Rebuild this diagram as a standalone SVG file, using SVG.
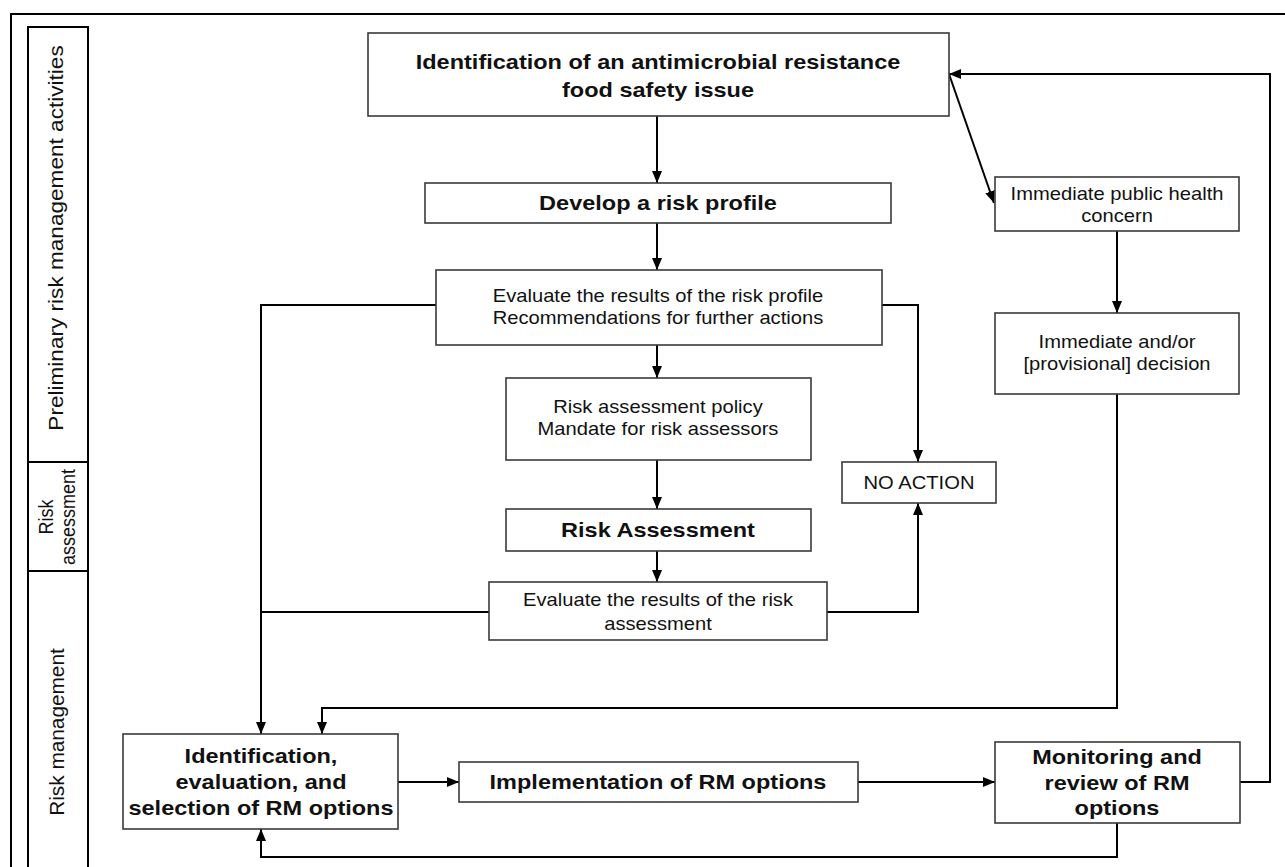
<svg xmlns="http://www.w3.org/2000/svg" width="1285" height="867" viewBox="0 0 1285 867">
<style>
  .frame { fill: none; stroke: #000; stroke-width: 2; }
  .box { fill: #fff; stroke: #3a3a3a; stroke-width: 1.6; }
  .conn { fill: none; stroke: #000; stroke-width: 2; }
  .b { font-family: "Liberation Sans", Arial, sans-serif; font-weight: bold; font-size: 21px; fill: #111; }
  .r { font-family: "Liberation Sans", Arial, sans-serif; font-size: 18px; fill: #111; }
  .side { font-family: "Liberation Sans", Arial, sans-serif; font-size: 20px; fill: #111; }
</style>
<defs>
  <marker id="ah" markerUnits="userSpaceOnUse" markerWidth="12" markerHeight="12" viewBox="0 0 12 12" refX="12" refY="6" orient="auto">
    <path d="M0,1 L12,6 L0,11 Z" fill="#000"/>
  </marker>
</defs>
<rect x="0" y="0" width="1285" height="867" fill="#fff"/>

<g id="frame">
  <path class="frame" d="M11,867 V14 H1285"/>
  <path class="frame" d="M28,867 V27 H88 V867 M28,462 H88 M28,571 H88"/>
  <text class="side" text-anchor="middle" transform="translate(56 238) rotate(-90) scale(1.13 1)" y="7">Preliminary risk management activities</text>
  <text class="side" text-anchor="middle" transform="translate(57 517) rotate(-90) scale(0.9 1)"><tspan x="0" y="-4">Risk</tspan><tspan x="0" y="18">assessment</tspan></text>
  <text class="side" text-anchor="middle" transform="translate(57 732) rotate(-90) scale(1.04 1)" y="7">Risk management</text>
</g>

<g id="connectors">
  <path class="conn" d="M657,116 V183" marker-end="url(#ah)"/>
  <path class="conn" d="M657,223 V270" marker-end="url(#ah)"/>
  <path class="conn" d="M657,345 V378" marker-end="url(#ah)"/>
  <path class="conn" d="M657,460 V509" marker-end="url(#ah)"/>
  <path class="conn" d="M657,551 V582" marker-end="url(#ah)"/>
  <path class="conn" d="M436,305 H261 V734" marker-end="url(#ah)"/>
  <path class="conn" d="M882,305 H918 V462" marker-end="url(#ah)"/>
  <path class="conn" d="M489,612 H261"/>
  <path class="conn" d="M827,612 H918 V503" marker-end="url(#ah)"/>
  <path class="conn" d="M1240,782 H1270 V74 H949" marker-end="url(#ah)"/>
  <path class="conn" d="M949,74 L994,203" marker-end="url(#ah)"/>
  <path class="conn" d="M1117,231 V313" marker-end="url(#ah)"/>
  <path class="conn" d="M1117,394 V708 H322 V734" marker-end="url(#ah)"/>
  <path class="conn" d="M398,782 H459" marker-end="url(#ah)"/>
  <path class="conn" d="M858,782 H995" marker-end="url(#ah)"/>
  <path class="conn" d="M1117,823 V857 H261 V829" marker-end="url(#ah)"/>
</g>

<g id="n-identify">
  <rect class="box" x="368" y="33" width="581" height="83"/>
  <text class="b" text-anchor="middle" transform="translate(658 0) scale(1.12 1)"><tspan x="0" y="69">Identification of an antimicrobial resistance</tspan><tspan x="0" y="97">food safety issue</tspan></text>
</g>

<g id="n-profile">
  <rect class="box" x="425" y="183" width="466" height="40"/>
  <text class="b" text-anchor="middle" transform="translate(658 210) scale(1.12 1)">Develop a risk profile</text>
</g>

<g id="n-eval-profile">
  <rect class="box" x="436" y="270" width="446" height="75"/>
  <text class="r" text-anchor="middle" transform="translate(658 0) scale(1.12 1)"><tspan x="0" y="302">Evaluate the results of the risk profile</tspan><tspan x="0" y="324">Recommendations for further actions</tspan></text>
</g>

<g id="n-policy">
  <rect class="box" x="506" y="378" width="305" height="82"/>
  <text class="r" text-anchor="middle" transform="translate(658 0) scale(1.12 1)"><tspan x="0" y="413">Risk assessment policy</tspan><tspan x="0" y="435">Mandate for risk assessors</tspan></text>
</g>

<g id="n-assessment">
  <rect class="box" x="506" y="509" width="305" height="42"/>
  <text class="b" text-anchor="middle" transform="translate(658 537) scale(1.12 1)">Risk Assessment</text>
</g>

<g id="n-eval-assessment">
  <rect class="box" x="489" y="582" width="338" height="58"/>
  <text class="r" text-anchor="middle" transform="translate(658 0) scale(1.12 1)"><tspan x="0" y="606">Evaluate the results of the risk</tspan><tspan x="0" y="630">assessment</tspan></text>
</g>

<g id="n-noaction">
  <rect class="box" x="842" y="462" width="154" height="41"/>
  <text class="r" text-anchor="middle" transform="translate(919 489) scale(1.12 1)">NO ACTION</text>
</g>

<g id="n-concern">
  <rect class="box" x="995" y="177" width="244" height="54"/>
  <text class="r" text-anchor="middle" transform="translate(1117 0) scale(1.12 1)"><tspan x="0" y="200">Immediate public health</tspan><tspan x="0" y="222">concern</tspan></text>
</g>

<g id="n-decision">
  <rect class="box" x="995" y="313" width="244" height="81"/>
  <text class="r" text-anchor="middle" transform="translate(1117 0) scale(1.12 1)"><tspan x="0" y="348">Immediate and/or</tspan><tspan x="0" y="370">[provisional] decision</tspan></text>
</g>

<g id="n-select">
  <rect class="box" x="123" y="734" width="275" height="95"/>
  <text class="b" text-anchor="middle" transform="translate(261 0) scale(1.12 1)"><tspan x="0" y="763">Identification,</tspan><tspan x="0" y="789">evaluation, and</tspan><tspan x="0" y="815">selection of RM options</tspan></text>
</g>

<g id="n-implement">
  <rect class="box" x="459" y="762" width="399" height="40"/>
  <text class="b" text-anchor="middle" transform="translate(658 789) scale(1.12 1)">Implementation of RM options</text>
</g>

<g id="n-monitor">
  <rect class="box" x="995" y="742" width="245" height="81"/>
  <text class="b" text-anchor="middle" transform="translate(1117 0) scale(1.12 1)"><tspan x="0" y="764">Monitoring and</tspan><tspan x="0" y="790">review of RM</tspan><tspan x="0" y="815">options</tspan></text>
</g>
</svg>
